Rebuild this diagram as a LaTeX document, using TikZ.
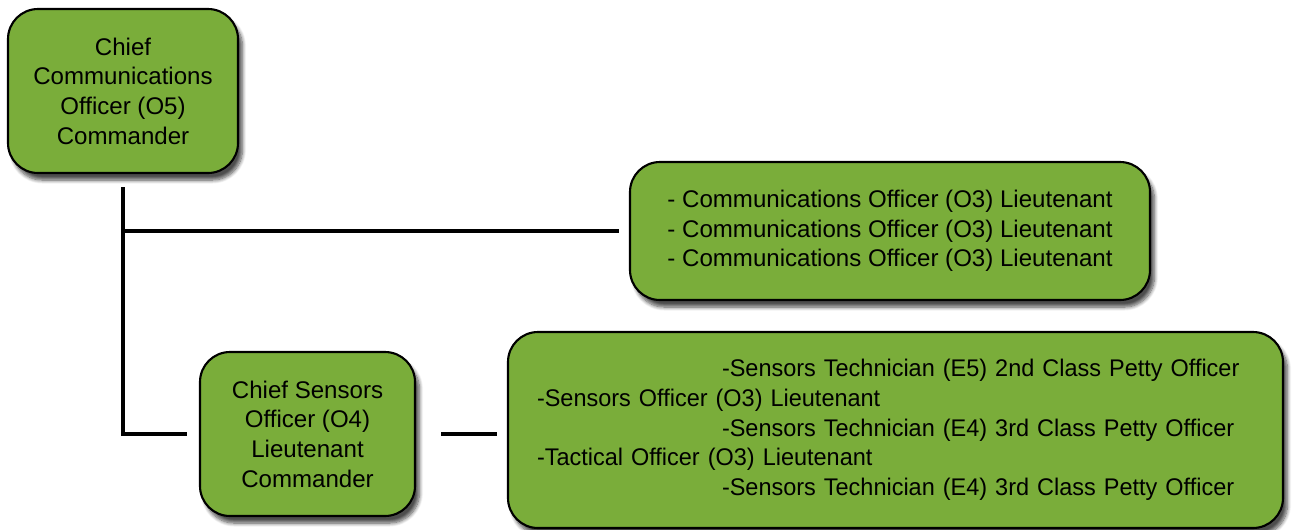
\documentclass[tikz,border=0pt]{standalone}
\usepackage{fontspec}
\setmainfont{Liberation Sans}
\newfontfamily\narrowfont[FakeStretch=0.975]{Liberation Sans}
\usetikzlibrary{positioning, shadows.blur}

\definecolor{rankgreen}{RGB}{122,173,58}

\begin{document}
\begin{tikzpicture}[
    post/.style={draw=black, line width=1.2pt, fill=rankgreen, rounded corners=0.6cm,
        blur shadow={shadow xshift=2.5pt, shadow yshift=-4pt, shadow blur steps=8, shadow opacity=70},
        font=\fontsize{13.7}{16.9}\selectfont, inner sep=0pt},
    link/.style={line width=2.8pt}]
    \useasboundingbox (0,0) rectangle (25.88,-10.58);

    \node[post, minimum width=4.6cm, minimum height=3.28cm, align=center] (chief) at (2.46,-1.82)
        {Chief\\Communications\\Officer (O5)\\Commander};
    \node[post, minimum width=10.4cm, minimum height=2.76cm, align=center] (comm) at (17.8,-4.62)
        {- Communications Officer (O3) Lieutenant\\
         - Communications Officer (O3) Lieutenant\\
         - Communications Officer (O3) Lieutenant};
    \node[post, minimum width=4.3cm, minimum height=3.28cm, align=center] (sensch) at (6.15,-8.68)
        {Chief Sensors\\Officer (O4)\\Lieutenant\\Commander};
    \node[post, minimum width=15.5cm, minimum height=3.92cm, align=left, text width=14.34cm,
        font=\narrowfont\fontsize{13.7}{16.9}\selectfont] (sens) at (17.91,-8.6)
        {\hspace*{3.7cm}-Sensors Technician (E5) 2nd Class Petty Officer\\
         -Sensors Officer (O3) Lieutenant\\
         \hspace*{3.7cm}-Sensors Technician (E4) 3rd Class Petty Officer\\
         -Tactical Officer (O3) Lieutenant\\
         \hspace*{3.7cm}-Sensors Technician (E4) 3rd Class Petty Officer};

    % reporting lines
    \draw[link] ([yshift=-2.6mm]chief.south) |- ([xshift=-2.4mm]sensch.west);
    \draw[link] (chief.south |- comm.west) -- ([xshift=-2mm]comm.west);
    \draw[link] ([xshift=5mm]sensch.east) -- ([xshift=-2mm]sens.west |- sensch.east);
\end{tikzpicture}
\end{document}
